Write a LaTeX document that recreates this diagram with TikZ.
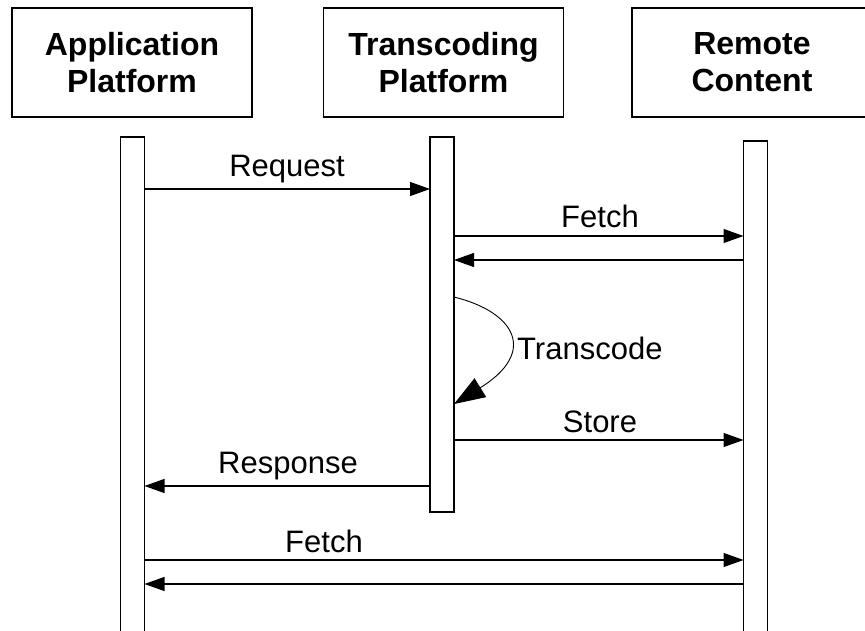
\documentclass[tikz,border=0pt]{standalone}
\usepackage{fontspec}
\setmainfont{Liberation Sans}
\usetikzlibrary{arrows.meta}
\begin{document}
\begin{tikzpicture}[x=1pt,y=-1pt,
  titlebox/.style={draw, line width=1.8pt, minimum width=240pt, minimum height=109pt, inner sep=0pt, outer sep=0pt, align=center, font=\fontsize{32}{37}\selectfont\bfseries},
  lifebar/.style={draw, line width=1.6pt, minimum width=24pt, inner sep=0pt, outer sep=0pt},
  msg/.style={line width=1.2pt, -{Triangle[length=20pt,width=14pt]}},
  selfmsg/.style={line width=0.9pt, -{Triangle[length=31pt,width=22pt]}},
  lbl/.style={font=\fontsize{31}{37}\selectfont, inner sep=0pt, anchor=base},
]
\useasboundingbox (0,0) rectangle (865,631);
\clip (0,0) rectangle (865,631);
% participants
\node[titlebox] (app) at (132,62.5) {Application\\Platform};
\node[titlebox] (trans) at (443.5,62.5) {Transcoding\\Platform};
\node[titlebox] (remote) at (752,62.5) {Remote\\Content};
% lifelines
\node[lifebar, minimum height=523pt] (applife) at (132.5,398.5) {};
\node[lifebar, minimum height=375pt] (translife) at (442,324.5) {};
\node[lifebar, minimum height=519pt] (remotelife) at (755.5,400.5) {};
% message levels
\coordinate (yreq) at (0,189);
\coordinate (yfetch) at (0,236);
\coordinate (yret) at (0,260);
\coordinate (ytca) at (0,297);
\coordinate (ytcb) at (0,404);
\coordinate (ystore) at (0,440);
\coordinate (yresp) at (0,486);
\coordinate (yfetchb) at (0,560);
\coordinate (yretb) at (0,584);
% messages
\draw[msg] (applife.east |- yreq) -- (translife.west |- yreq);
\draw[msg] (translife.east |- yfetch) -- (remotelife.west |- yfetch);
\draw[msg] (remotelife.west |- yret) -- (translife.east |- yret);
\draw[selfmsg] (translife.east |- ytca) .. controls (515,312) and (538,352) .. (translife.east |- ytcb);
\draw[msg] (translife.east |- ystore) -- (remotelife.west |- ystore);
\draw[msg] (translife.west |- yresp) -- (applife.east |- yresp);
\draw[msg] (applife.east |- yfetchb) -- (remotelife.west |- yfetchb);
\draw[msg] (remotelife.west |- yretb) -- (applife.east |- yretb);
% labels
\node[lbl] (lreq) at (287,177) {Request};
\node[lbl] (lfetch) at (600,228) {Fetch};
\node[lbl, anchor=base west] (ltc) at (517,359) {Transcode};
\node[lbl] (lstore) at (600,432) {Store};
\node[lbl] (lresp) at (288,473) {Response};
\node[lbl] (lfetchb) at (324,552) {Fetch};
\end{tikzpicture}
\end{document}
